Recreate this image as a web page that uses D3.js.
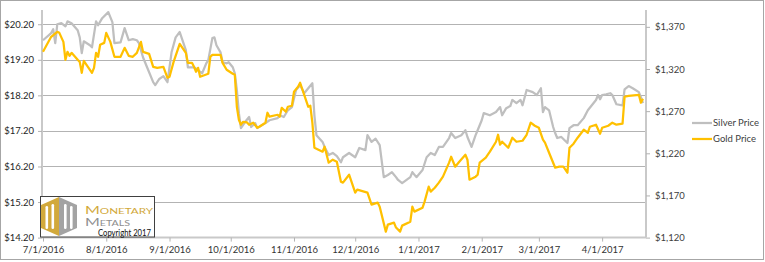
<!DOCTYPE html>
<meta charset="utf-8">
<style>
 body { margin: 0; background: #fff; }
 text { font-family: Lato, "Liberation Sans", sans-serif; }
</style>
<body>
<script src="https://cdn.jsdelivr.net/npm/d3@7/dist/d3.min.js"></script>
<script>

 var silverDates = ["7/1/2016","7/5/2016","7/6/2016","7/7/2016","7/8/2016","7/10/2016","7/12/2016","7/13/2016","7/15/2016","7/18/2016",
   "7/19/2016","7/20/2016","7/21/2016","7/24/2016","7/25/2016","7/27/2016","7/28/2016","7/30/2016","8/2/2016","8/3/2016",
   "8/4/2016","8/5/2016","8/8/2016","8/10/2016","8/12/2016","8/14/2016","8/16/2016","8/17/2016","8/19/2016","8/21/2016",
   "8/24/2016","8/25/2016","8/27/2016","8/29/2016","8/31/2016","9/2/2016","9/4/2016","9/6/2016","9/9/2016","9/10/2016",
   "9/12/2016","9/13/2016","9/15/2016","9/17/2016","9/19/2016","9/20/2016","9/22/2016","9/23/2016","9/24/2016","9/26/2016",
   "9/27/2016","9/29/2016","9/30/2016","10/2/2016","10/3/2016","10/4/2016","10/5/2016","10/6/2016","10/8/2016","10/10/2016",
   "10/11/2016","10/13/2016","10/14/2016","10/18/2016","10/20/2016","10/24/2016","10/25/2016","10/27/2016","10/29/2016","10/31/2016",
   "11/2/2016","11/4/2016","11/6/2016","11/8/2016","11/10/2016","11/11/2016","11/12/2016","11/15/2016","11/16/2016","11/18/2016",
   "11/20/2016","11/22/2016","11/24/2016","11/25/2016","11/28/2016","12/1/2016","12/3/2016","12/6/2016","12/7/2016","12/9/2016",
   "12/11/2016","12/13/2016","12/15/2016","12/17/2016","12/19/2016","12/21/2016","12/22/2016","12/24/2016","12/28/2016","12/29/2016",
   "12/31/2016","1/3/2017","1/5/2017","1/7/2017","1/9/2017","1/11/2017","1/13/2017","1/16/2017","1/17/2017","1/19/2017",
   "1/22/2017","1/24/2017","1/25/2017","1/27/2017","1/29/2017","1/30/2017","2/1/2017","2/2/2017","2/5/2017","2/8/2017",
   "2/10/2017","2/11/2017","2/13/2017","2/15/2017","2/16/2017","2/18/2017","2/20/2017","2/21/2017","2/23/2017","2/26/2017",
   "2/28/2017","3/2/2017","3/3/2017","3/4/2017","3/6/2017","3/8/2017","3/9/2017","3/10/2017","3/12/2017","3/15/2017",
   "3/16/2017","3/18/2017","3/20/2017","3/23/2017","3/25/2017","3/29/2017","3/30/2017","3/31/2017","4/1/2017","4/3/2017",
   "4/5/2017","4/6/2017","4/8/2017","4/11/2017","4/12/2017","4/14/2017","4/16/2017","4/19/2017","4/20/2017","4/21/2017"];

 var silverPrices = [19.75,19.95,20.06,19.67,20.20,20.23,20.14,20.28,20.23,20.03,
   19.83,19.39,19.72,19.61,19.55,20.28,20.17,20.37,20.54,20.40,
   20.26,19.67,19.69,20.09,19.75,19.78,19.75,19.67,19.27,18.99,
   18.57,18.49,18.66,18.74,18.57,19.41,19.83,19.98,19.47,18.99,
   18.99,18.99,18.91,18.82,19.10,19.19,19.81,19.83,19.61,19.41,
   19.13,19.10,19.13,18.99,18.82,18.35,17.70,17.28,17.45,17.59,
   17.31,17.42,17.28,17.42,17.50,17.56,17.64,17.59,17.78,17.87,
   18.35,18.49,18.26,18.40,18.54,17.64,17.08,16.89,16.75,16.52,
   16.58,16.49,16.32,16.46,16.58,16.46,16.72,16.66,17.08,16.89,
   16.98,16.80,15.90,15.96,16.04,15.90,15.82,15.73,15.90,16.04,
   15.90,16.10,16.46,16.58,16.52,16.75,16.75,17.00,17.14,17.00,
   17.08,17.22,17.03,16.75,17.08,17.22,17.50,17.70,17.64,17.73,
   17.87,17.64,17.84,17.90,18.07,17.98,18.07,17.92,18.35,18.29,
   18.21,18.40,17.73,17.87,17.78,17.31,17.14,17.00,17.03,16.86,
   17.28,17.36,17.36,17.56,17.78,18.07,18.21,18.09,18.21,18.23,
   18.26,18.21,17.95,17.92,18.37,18.46,18.40,18.29,18.15,17.98];

 var goldDates = ["7/1/2016","7/5/2016","7/8/2016","7/9/2016","7/11/2016","7/12/2016","7/13/2016","7/14/2016","7/15/2016","7/18/2016",
   "7/19/2016","7/20/2016","7/21/2016","7/23/2016","7/25/2016","7/26/2016","7/27/2016","7/28/2016","7/29/2016","7/31/2016",
   "8/1/2016","8/3/2016","8/5/2016","8/8/2016","8/10/2016","8/12/2016","8/14/2016","8/16/2016","8/18/2016","8/19/2016",
   "8/22/2016","8/24/2016","8/26/2016","8/29/2016","8/31/2016","9/1/2016","9/3/2016","9/6/2016","9/9/2016","9/10/2016",
   "9/12/2016","9/13/2016","9/14/2016","9/15/2016","9/16/2016","9/20/2016","9/21/2016","9/22/2016","9/26/2016","9/27/2016",
   "9/29/2016","10/2/2016","10/3/2016","10/4/2016","10/5/2016","10/6/2016","10/7/2016","10/9/2016","10/10/2016","10/12/2016",
   "10/14/2016","10/15/2016","10/18/2016","10/19/2016","10/20/2016","10/24/2016","10/25/2016","10/26/2016","10/28/2016","10/29/2016",
   "10/31/2016","11/1/2016","11/3/2016","11/4/2016","11/6/2016","11/8/2016","11/9/2016","11/10/2016","11/11/2016","11/15/2016",
   "11/16/2016","11/18/2016","11/20/2016","11/22/2016","11/24/2016","11/25/2016","11/28/2016","12/1/2016","12/2/2016","12/7/2016",
   "12/9/2016","12/12/2016","12/13/2016","12/16/2016","12/17/2016","12/20/2016","12/21/2016","12/23/2016","12/24/2016","12/28/2016",
   "12/29/2016","12/30/2016","1/3/2017","1/4/2017","1/6/2017","1/7/2017","1/9/2017","1/11/2017","1/13/2017","1/16/2017",
   "1/17/2017","1/19/2017","1/21/2017","1/24/2017","1/25/2017","1/26/2017","1/29/2017","1/30/2017","1/31/2017","2/3/2017",
   "2/5/2017","2/8/2017","2/9/2017","2/10/2017","2/11/2017","2/14/2017","2/16/2017","2/18/2017","2/21/2017","2/23/2017",
   "2/25/2017","2/27/2017","3/1/2017","3/3/2017","3/4/2017","3/6/2017","3/9/2017","3/11/2017","3/13/2017","3/15/2017",
   "3/16/2017","3/18/2017","3/20/2017","3/23/2017","3/25/2017","3/26/2017","3/29/2017","3/31/2017","4/1/2017","4/4/2017",
   "4/6/2017","4/8/2017","4/11/2017","4/12/2017","4/14/2017","4/19/2017","4/20/2017","4/21/2017"];

 var goldPrices = [1340.4,1358.2,1364.1,1362.9,1352.2,1330.9,1340.4,1335.6,1339.2,1330.9,
   1328.5,1315.5,1329.7,1322.6,1315.5,1321.4,1339.2,1334.5,1348.7,1351.0,
   1362.9,1352.2,1334.5,1334.5,1345.1,1335.6,1334.5,1339.2,1352.2,1340.4,
   1338.0,1322.6,1321.4,1322.6,1309.6,1310.8,1328.5,1349.9,1339.2,1327.3,
   1327.3,1322.6,1316.7,1321.4,1310.8,1314.3,1334.5,1336.8,1336.8,1327.3,
   1319.1,1314.3,1313.1,1275.2,1259.8,1253.9,1257.4,1256.6,1253.9,1256.3,
   1250.3,1251.5,1256.3,1268.1,1263.4,1265.7,1263.4,1274.0,1269.3,1275.2,
   1276.4,1293.0,1298.9,1303.7,1289.4,1275.2,1276.4,1256.3,1226.6,1221.9,
   1227.8,1208.9,1212.4,1210.0,1186.3,1185.2,1194.6,1173.3,1176.9,1173.3,
   1159.1,1161.5,1156.7,1127.1,1135.4,1137.8,1131.9,1127.1,1134.2,1138.9,
   1156.7,1150.8,1155.5,1162.7,1180.4,1174.5,1179.2,1185.2,1192.3,1208.9,
   1215.9,1204.1,1210.0,1218.3,1212.4,1188.7,1192.3,1194.6,1208.9,1214.8,
   1221.9,1233.7,1242.0,1230.2,1233.7,1226.6,1238.5,1233.7,1234.9,1242.0,
   1256.3,1252.7,1250.3,1236.1,1232.6,1220.7,1202.9,1204.1,1204.1,1197.0,
   1226.6,1231.4,1238.5,1248.0,1244.4,1251.5,1253.9,1243.2,1250.3,1252.7,
   1256.3,1253.9,1255.1,1287.1,1288.2,1289.4,1280.0,1284.7];

 var silverTicks = [14.2, 15.2, 16.2, 17.2, 18.2, 19.2, 20.2];
 var goldTicks = [1120, 1170, 1220, 1270, 1320, 1370];
 var seriesNames = ["Silver Price", "Gold Price"];

 var width = 765, height = 262;
 var plotLeft = 42, plotRight = 646, plotTop = 10, plotBottom = 237.6;

 var parse = d3.timeParse("%m/%d/%Y");
 var silver = silverDates.map(function(d, i) { return {date: parse(d), value: silverPrices[i]}; });
 var gold = goldDates.map(function(d, i) { return {date: parse(d), value: goldPrices[i]}; });

 var xScale = d3.scaleTime()
                .domain([new Date(2016, 6, 1), new Date(2017, 3, 22, 12)])
                .range([plotLeft + 1, plotRight]);
 var ySilver = d3.scaleLinear().domain([14.2, 20.6]).range([plotBottom, plotTop]);
 var yGold = d3.scaleLinear().domain([1120, 1390]).range([plotBottom, plotTop]);

 var svg = d3.select("body").append("svg")
             .attr("width", width)
             .attr("height", height);

 svg.append("rect")
    .attr("x", 0.5).attr("y", 0.5)
    .attr("width", 763).attr("height", 259)
    .attr("fill", "#fff").attr("stroke", "#a6a6a6");

 // gridlines off the silver axis
 svg.append("g").selectAll("line")
    .data(silverTicks.slice(1))
    .enter().append("line")
    .attr("x1", plotLeft).attr("x2", plotRight)
    .attr("y1", function(d) { return Math.round(ySilver(d)) + 0.5; })
    .attr("y2", function(d) { return Math.round(ySilver(d)) + 0.5; })
    .attr("stroke", "#b3b3b3");

 // left axis
 var gL = svg.append("g")
             .attr("transform", "translate(" + plotLeft + ",0)")
             .call(d3.axisLeft(ySilver).tickValues(silverTicks).tickSize(4).tickPadding(4)
                     .tickFormat(function(d) { return "$" + d3.format(".2f")(d); }));

 // right axis
 var gR = svg.append("g")
             .attr("transform", "translate(" + plotRight + ",0)")
             .call(d3.axisRight(yGold).tickValues(goldTicks).tickSize(4).tickPadding(5)
                     .tickFormat(d3.format("$,.0f")));

 // bottom axis
 var gX = svg.append("g")
             .attr("transform", "translate(0," + plotBottom + ")")
             .call(d3.axisBottom(xScale).ticks(d3.timeMonth.every(1)).tickSize(4).tickPadding(5)
                     .tickFormat(d3.timeFormat("%-m/%-d/%Y")));

 [gL, gR, gX].forEach(function(g) {
     g.select(".domain").attr("stroke", "#c9c9c9").attr("stroke-width", 2);
     g.selectAll(".tick line").attr("stroke", "#b3b3b3");
     g.selectAll("text").attr("font-size", "9.5px").attr("font-family", "Lato, sans-serif");
 });
 gL.selectAll("text").attr("fill", "#262626");
 gX.selectAll("text").attr("fill", "#333");
 gR.selectAll("text").attr("fill", "#404040");
 gL.select(".domain").attr("d", "M0," + plotBottom + "V" + plotTop);
 gR.select(".domain").attr("d", "M0," + plotBottom + "V" + plotTop);
 gX.select(".domain").attr("d", "M" + plotLeft + ",0H" + plotRight);

 var lineS = d3.line().x(function(d) { return xScale(d.date); }).y(function(d) { return ySilver(d.value); });
 var lineG = d3.line().x(function(d) { return xScale(d.date); }).y(function(d) { return yGold(d.value); });

 svg.append("path")
    .datum(silver)
    .attr("fill", "none")
    .attr("stroke", "#bfbfbf")
    .attr("stroke-width", 2.25)
    .attr("stroke-linejoin", "round")
    .attr("d", lineS);

 svg.append("path")
    .datum(gold)
    .attr("fill", "none")
    .attr("stroke", "#ffc000")
    .attr("stroke-width", 2.25)
    .attr("stroke-linejoin", "round")
    .attr("d", lineG);

 // legend
 var legend = svg.append("g").attr("transform", "translate(692,123)");
 legend.selectAll("g")
       .data(seriesNames)
       .enter().append("g")
       .attr("transform", function(d, i) { return "translate(0," + i * 16 + ")"; })
       .each(function(d, i) {
           var g = d3.select(this);
           g.append("line").attr("x1", 0).attr("x2", 20)
            .attr("stroke", i ? "#ffc000" : "#bfbfbf").attr("stroke-width", 2.25);
           g.append("text").attr("x", 21).attr("dy", "0.35em")
            .attr("font-size", "9.5px").attr("fill", "#404040").text(d);
       });

 // logo box
 var logo = svg.append("g");
 logo.append("rect")
     .attr("x", 40.5).attr("y", 196.5).attr("width", 114).attr("height", 40.5)
     .attr("fill", "#fff").attr("stroke", "#404040");
 var icon = logo.append("g").attr("transform", "translate(41,197)");
 icon.append("path").attr("d", "M0,8L18,0V39L0,31Z").attr("fill", "#d2a93b");
 icon.append("path").attr("d", "M18,0L36,8V31L18,39Z").attr("fill", "#a3a3a3");
 [[4.5, 9], [10.5, 7], [23, 7], [29, 9]].forEach(function(b) {
     icon.append("rect").attr("x", b[0]).attr("y", b[1]).attr("width", 2.6).attr("height", 32 - b[1])
         .attr("rx", 1.3).attr("fill", "#fff");
 });
 logo.append("text").attr("x", 85).attr("y", 214)
     .attr("font-family", "'Liberation Serif', serif").attr("font-size", "11px")
     .style("font-variant", "small-caps").attr("fill", "#d2a93b")
     .attr("textLength", 68).attr("lengthAdjust", "spacingAndGlyphs")
     .text("Monetary");
 logo.append("text").attr("x", 85).attr("y", 226)
     .attr("font-family", "'Liberation Serif', serif").attr("font-size", "10.5px")
     .style("font-variant", "small-caps").attr("fill", "#8f8f8f")
     .attr("textLength", 45).attr("lengthAdjust", "spacingAndGlyphs")
     .text("Metals");
 logo.append("text").attr("x", 98).attr("y", 235.5)
     .attr("font-size", "8.5px").attr("fill", "#111")
     .attr("textLength", 53).attr("lengthAdjust", "spacingAndGlyphs")
     .text("Copyright 2017");

</script>
